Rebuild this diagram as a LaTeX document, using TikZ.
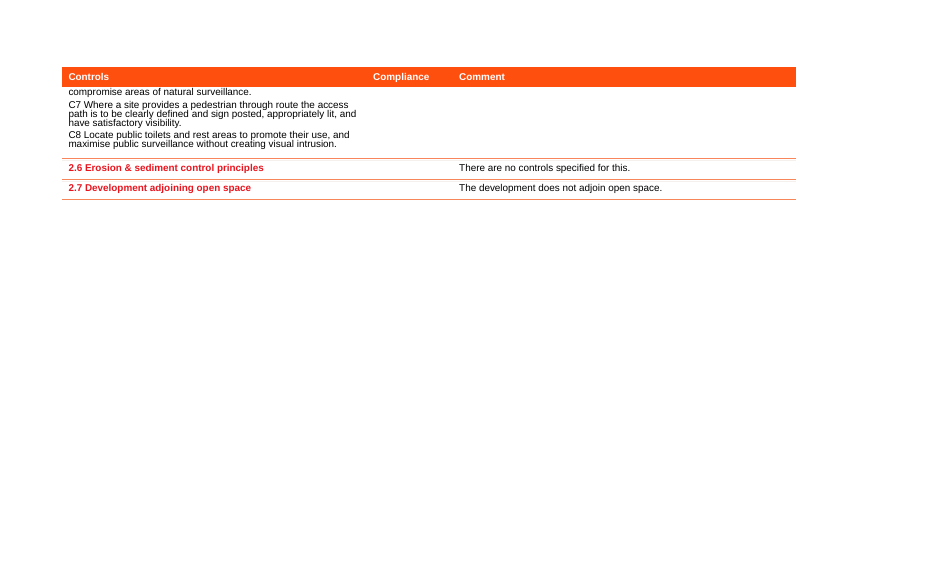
\documentclass[tikz,border=0pt]{standalone}
\usepackage{fontspec}
\setmainfont{Liberation Sans}
\definecolor{hdr}{HTML}{FF4F0F}
\definecolor{rowred}{HTML}{E8141E}
\definecolor{rule}{HTML}{F7875A}
\definecolor{rulefaint}{HTML}{F6F0EC}
\begin{document}
\begin{tikzpicture}[x=1pt,y=-1pt,
  txt/.style={anchor=base west,inner sep=0pt,font=\fontsize{9.9}{9}\selectfont},
  hdrtxt/.style={txt,text=white,font=\fontsize{9.9}{9}\selectfont\bfseries},
  redtxt/.style={txt,text=rowred,font=\fontsize{9.9}{9}\selectfont\bfseries},
  rowrule/.style={draw=rule,line width=1pt},
  faintrule/.style={draw=rulefaint,line width=0.8pt}]
\useasboundingbox (0,0) rectangle (928,579);
% header bar
\fill[hdr] (62,66.7) rectangle (796,86.7);
\node[hdrtxt] (hcontrols) at (68.3,80) {Controls};
\node[hdrtxt] (hcompliance) at (373,80) {Compliance};
\node[hdrtxt] (hcomment) at (459,80) {Comment};
% body text
\node[txt] (l1) at (68.3,95.3) {compromise areas of natural surveillance.};
\node[txt] (l2) at (68.3,108) {C7 Where a site provides a pedestrian through route the access};
\node[txt] (l3) at (68.3,117) {path is to be clearly defined and sign posted, appropriately lit, and};
\node[txt] (l4) at (68.3,126) {have satisfactory visibility.};
\node[txt] (l5) at (68.3,138.6) {C8 Locate public toilets and rest areas to promote their use, and};
\node[txt] (l6) at (68.3,147.6) {maximise public surveillance without creating visual intrusion.};
% rules
\coordinate (r1a) at (62,158.5); \coordinate (r1b) at (796,158.5);
\coordinate (r2a) at (62,179.5); \coordinate (r2b) at (796,179.5);
\coordinate (r3a) at (62,199.5); \coordinate (r3b) at (796,199.5);
\coordinate (f1a) at (62,160.5); \coordinate (f1b) at (796,160.5);
\coordinate (f2a) at (62,181.5); \coordinate (f2b) at (796,181.5);
\draw[faintrule] (f1a) -- (f1b);
\draw[faintrule] (f2a) -- (f2b);
\draw[rowrule] (r1a) -- (r1b);
\draw[rowrule] (r2a) -- (r2b);
\draw[rowrule] (r3a) -- (r3b);
% rows
\node[redtxt] (s26) at (68.3,171) {2.6 Erosion \& sediment control principles};
\node[txt] (c26) at (459,171) {There are no controls specified for this.};
\node[redtxt] (s27) at (68.3,191.3) {2.7 Development adjoining open space};
\node[txt] (c27) at (459,191.3) {The development does not adjoin open space.};
\end{tikzpicture}
\end{document}
